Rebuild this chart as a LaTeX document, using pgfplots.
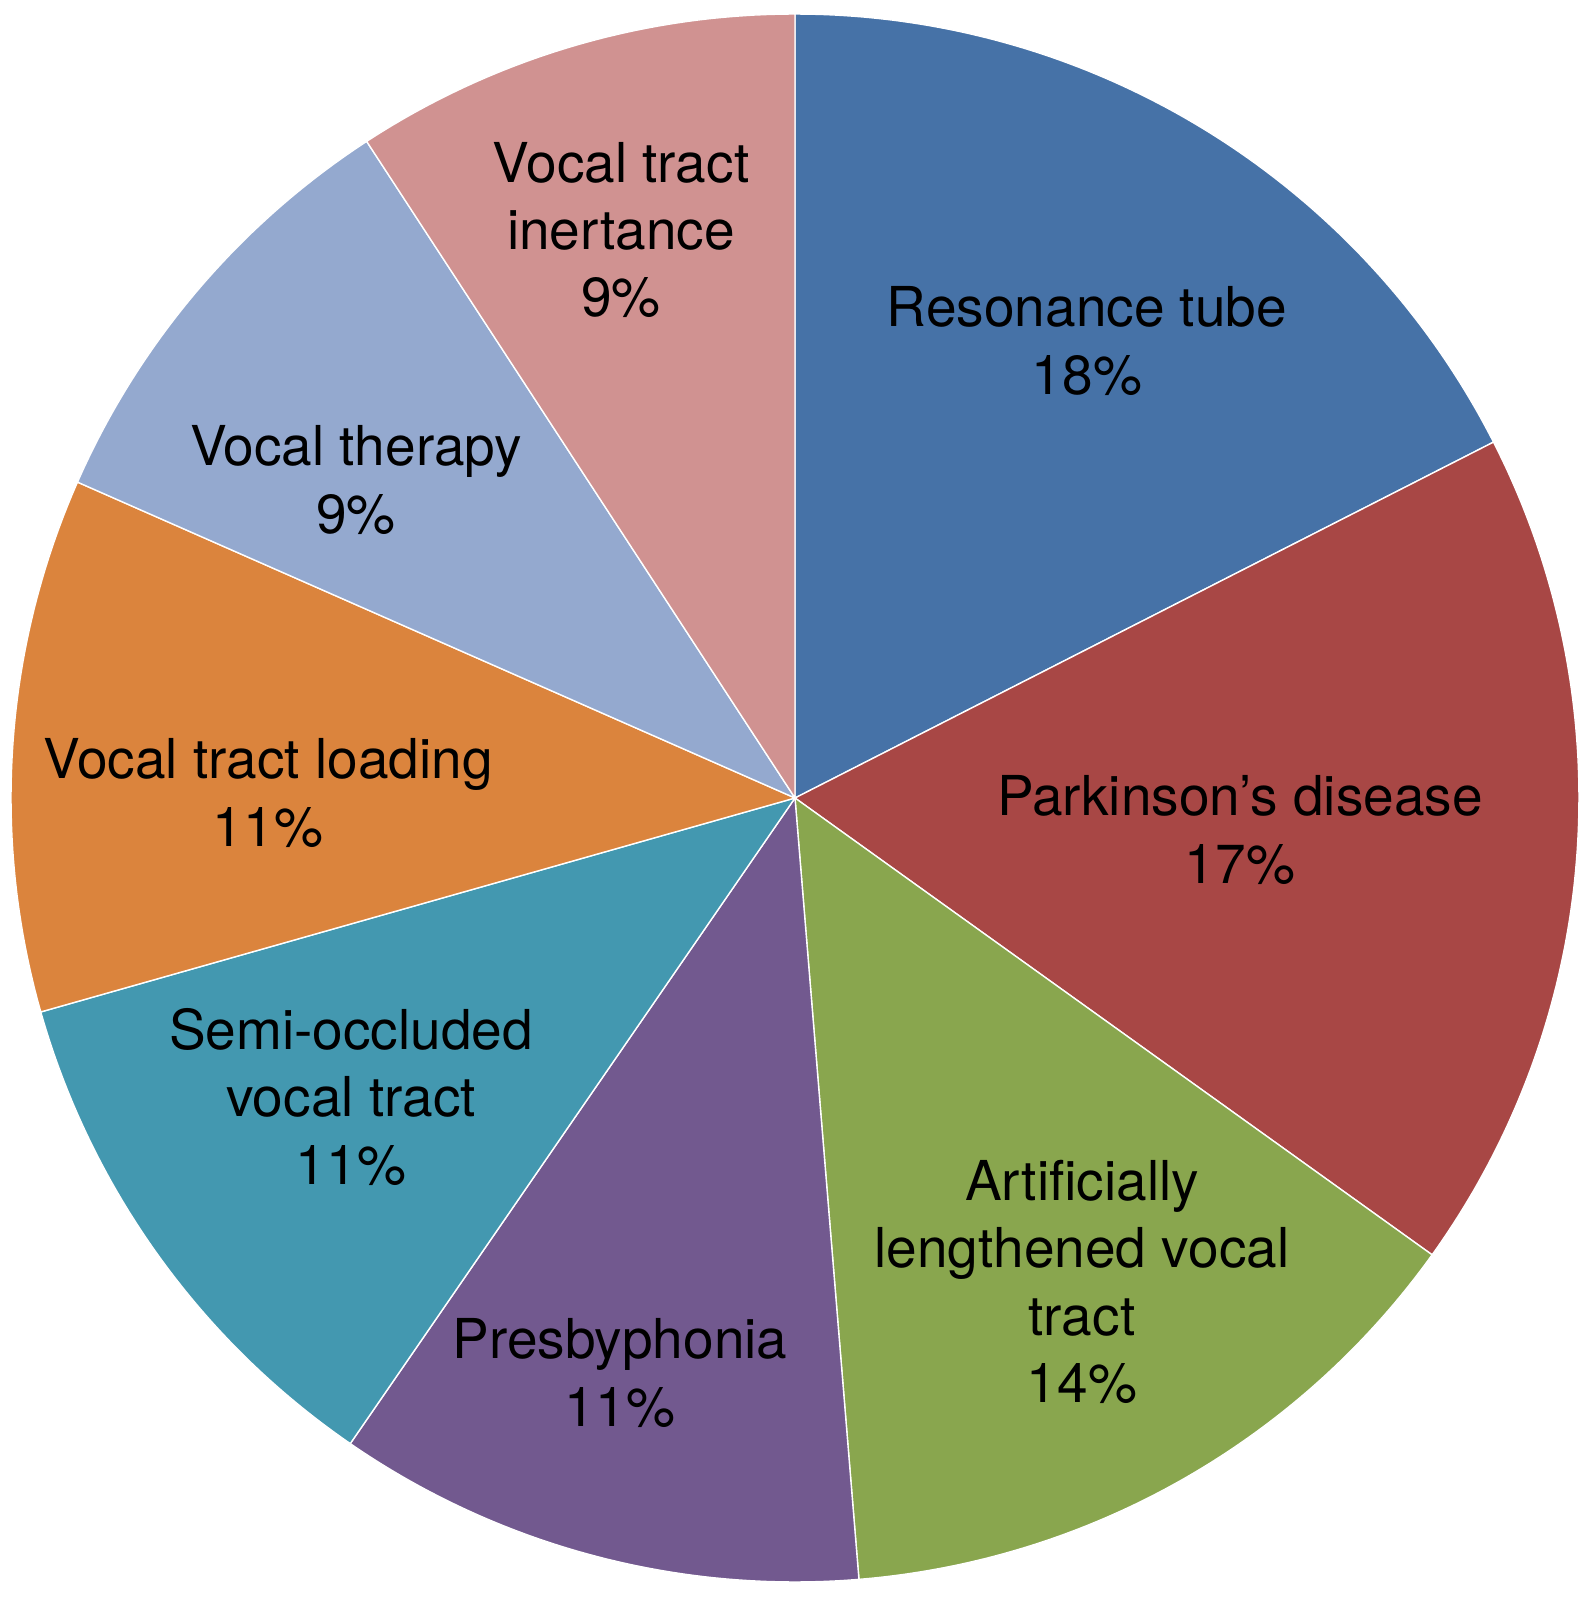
\documentclass[border=0pt]{standalone}
\usepackage{fontspec}
\setmainfont{TeX Gyre Heros}
\usepackage{pgfplots}
\pgfplotsset{compat=1.18}
\definecolor{cRes}{RGB}{70,114,167}
\definecolor{cPar}{RGB}{168,71,69}
\definecolor{cArt}{RGB}{137,166,78}
\definecolor{cPre}{RGB}{114,89,143}
\definecolor{cSem}{RGB}{67,152,176}
\definecolor{cLoa}{RGB}{219,132,61}
\definecolor{cThe}{RGB}{148,169,207}
\definecolor{cIne}{RGB}{208,146,145}
\tikzset{lbl/.style={font=\fontsize{13.9}{17.05}\selectfont, align=center, text=black, inner sep=0pt}}
% slice shares in percent (as drawn), clockwise from 12 o'clock
\def\vRes{17.5}\def\vPar{17.4}\def\vArt{13.8}\def\vPre{10.9}
\def\vSem{11.0}\def\vLoa{11.0}\def\vThe{9.2}\def\vIne{9.2}
\pgfmathsetmacro{\aA}{90}
\pgfmathsetmacro{\aB}{\aA-3.6*\vRes}
\pgfmathsetmacro{\aC}{\aB-3.6*\vPar}
\pgfmathsetmacro{\aD}{\aC-3.6*\vArt}
\pgfmathsetmacro{\aE}{\aD-3.6*\vPre}
\pgfmathsetmacro{\aF}{\aE-3.6*\vSem}
\pgfmathsetmacro{\aG}{\aF-3.6*\vLoa}
\pgfmathsetmacro{\aH}{\aG-3.6*\vThe}
\pgfmathsetmacro{\aI}{\aH-3.6*\vIne}
\def\cx{795}\def\cy{807}\def\rr{784}
\begin{document}
\begin{tikzpicture}
\begin{axis}[
  width=400pt, height=405.56pt, scale only axis,
  xmin=0, xmax=1583, ymin=0, ymax=1605,
  hide axis, clip=false,
  every axis plot/.append style={draw=white, line width=0.35pt, samples=90, variable=\t, line join=round},
]
\path (axis cs:0,0) rectangle (axis cs:1583,1605);
\addplot[fill=cRes, domain=\aB:\aA] ({\cx+\rr*cos(\t)},{\cy+\rr*sin(\t)}) -- (axis cs:\cx,\cy) -- cycle;
\addplot[fill=cPar, domain=\aC:\aB] ({\cx+\rr*cos(\t)},{\cy+\rr*sin(\t)}) -- (axis cs:\cx,\cy) -- cycle;
\addplot[fill=cArt, domain=\aD:\aC] ({\cx+\rr*cos(\t)},{\cy+\rr*sin(\t)}) -- (axis cs:\cx,\cy) -- cycle;
\addplot[fill=cPre, domain=\aE:\aD] ({\cx+\rr*cos(\t)},{\cy+\rr*sin(\t)}) -- (axis cs:\cx,\cy) -- cycle;
\addplot[fill=cSem, domain=\aF:\aE] ({\cx+\rr*cos(\t)},{\cy+\rr*sin(\t)}) -- (axis cs:\cx,\cy) -- cycle;
\addplot[fill=cLoa, domain=\aG:\aF] ({\cx+\rr*cos(\t)},{\cy+\rr*sin(\t)}) -- (axis cs:\cx,\cy) -- cycle;
\addplot[fill=cThe, domain=\aH:\aG] ({\cx+\rr*cos(\t)},{\cy+\rr*sin(\t)}) -- (axis cs:\cx,\cy) -- cycle;
\addplot[fill=cIne, domain=\aI:\aH] ({\cx+\rr*cos(\t)},{\cy+\rr*sin(\t)}) -- (axis cs:\cx,\cy) -- cycle;
\node[lbl] at (axis cs:1087,{1605-341}) {Resonance tube\\18\%};
\node[lbl] at (axis cs:1240,{1605-830}) {Parkinson’s disease\\17\%};
\node[lbl] at (axis cs:1082,{1605-1282}) {Artificially\\lengthened vocal\\tract\\14\%};
\node[lbl] at (axis cs:620,{1605-1373}) {Presbyphonia\\11\%};
\node[lbl] at (axis cs:351,{1605-1097}) {Semi-occluded\\vocal tract\\11\%};
\node[lbl] at (axis cs:268,{1605-793}) {Vocal tract loading\\11\%};
\node[lbl] at (axis cs:356,{1605-480}) {Vocal therapy\\9\%};
\node[lbl] at (axis cs:621,{1605-230}) {Vocal tract\\inertance\\9\%};
\end{axis}
\end{tikzpicture}
\end{document}
